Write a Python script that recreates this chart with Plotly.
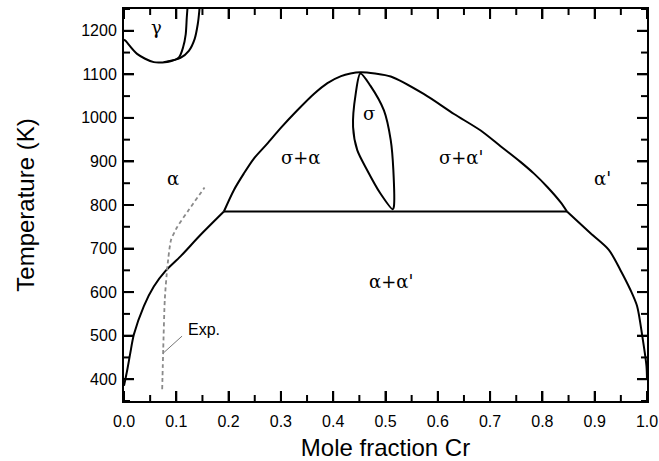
import plotly.graph_objects as go

# alpha / alpha' miscibility-gap boundary (left branch)
gap_left_x = [0.0, 0.006, 0.012, 0.019, 0.038, 0.057, 0.079, 0.108, 0.146, 0.191]
gap_left_T = [385, 420, 460, 503, 568, 613, 648, 682, 731, 785]

# sigma dome (sigma+alpha / sigma+alpha' boundary)
dome_x = [0.191, 0.21, 0.229, 0.248, 0.274, 0.299, 0.331, 0.363, 0.389, 0.415, 0.433, 0.452,
          0.48, 0.51, 0.573, 0.631, 0.682, 0.72, 0.758, 0.784, 0.809, 0.835, 0.847]
dome_T = [785, 834, 872, 906, 941, 976, 1017, 1055, 1080, 1096, 1102, 1105,
          1102, 1095, 1055, 1009, 971, 935, 899, 872, 842, 806, 785]

# alpha / alpha' miscibility-gap boundary (right branch)
gap_right_x = [0.847, 0.892, 0.927, 0.949, 0.968, 0.981, 0.991, 0.999, 1.0]
gap_right_T = [785, 735, 697, 651, 606, 568, 499, 430, 400]

# eutectoid tie line
tie_x = [0.191, 0.847]
tie_T = [785, 785]

# sigma single-phase lens
sigma_x = [0.514, 0.49, 0.465, 0.446, 0.438, 0.443, 0.452, 0.471, 0.497, 0.51, 0.515, 0.516, 0.514]
sigma_T = [790, 827, 880, 926, 979, 1055, 1102, 1074, 1017, 949, 880, 796, 790]

# gamma loop boundaries
gammaA_x = [0.0, 0.003, 0.025, 0.057, 0.089, 0.105, 0.113, 0.118, 0.12, 0.121, 0.1215]
gammaA_T = [1180, 1177, 1147, 1128, 1130, 1139, 1162, 1192, 1230, 1246, 1255]
gammaB_x = [0.076, 0.108, 0.124, 0.135, 0.141, 0.144, 0.1445]
gammaB_T = [1128, 1138, 1154, 1181, 1215, 1246, 1255]

# experimental boundary (dashed)
exp_x = [0.073, 0.075, 0.078, 0.083, 0.09, 0.102, 0.124, 0.154]
exp_T = [377, 469, 583, 659, 720, 750, 789, 840]

# leader line for "Exp." label
lead_x = [0.076, 0.111]
lead_T = [461, 499]

# phase labels
label_text = ["γ", "α", "σ+α", "σ", "σ+α'", "α'", "α+α'"]
label_x = [0.062, 0.094, 0.339, 0.468, 0.645, 0.915, 0.51]
label_T = [1208, 862, 910, 1010, 910, 862, 624]

# axis ticks
x_ticks = [0.0, 0.1, 0.2, 0.3, 0.4, 0.5, 0.6, 0.7, 0.8, 0.9, 1.0]
x_minor = [0.05, 0.15, 0.25, 0.35, 0.45, 0.55, 0.65, 0.75, 0.85, 0.95]
y_ticks = [400, 500, 600, 700, 800, 900, 1000, 1100, 1200]
y_minor = [350, 450, 550, 650, 750, 850, 950, 1050, 1150, 1250]

x_range = [0, 1]
y_range = [350, 1250]

W, H = 659, 461
M = dict(l=124, r=12, t=9, b=60)
plot_w = W - M["l"] - M["r"]
plot_h = H - M["t"] - M["b"]
x_per_px = (x_range[1] - x_range[0]) / plot_w
y_per_px = (y_range[1] - y_range[0]) / plot_h

fig = go.Figure()


def curve(x, y, spline=True):
    fig.add_trace(go.Scatter(x=x, y=y, mode="lines",
                             line=dict(color="black", width=2,
                                       shape="spline" if spline else "linear",
                                       smoothing=0.8),
                             hoverinfo="skip", showlegend=False))

curve(gap_left_x, gap_left_T)
curve(dome_x, dome_T)
curve(gap_right_x, gap_right_T)
curve(tie_x, tie_T, spline=False)
curve(sigma_x, sigma_T)
curve(gammaA_x, gammaA_T)
curve(gammaB_x, gammaB_T)

fig.add_trace(go.Scatter(x=exp_x, y=exp_T, mode="lines",
                         line=dict(color="#8a8a8a", width=1.8, dash="4px,3px", shape="spline", smoothing=0.6),
                         hoverinfo="skip", showlegend=False))
fig.add_trace(go.Scatter(x=lead_x, y=lead_T, mode="lines",
                         line=dict(color="#777777", width=1),
                         hoverinfo="skip", showlegend=False))

# inward-pointing ticks on all four sides, built from the tick-value lists (as layout shapes)
for vals, length in [(x_ticks, 10), (x_minor, 6)]:
    dy = length * y_per_px
    for v in vals:
        fig.add_shape(type="line", xref="x", yref="y", x0=v, x1=v, y0=y_range[0], y1=y_range[0] + dy,
                      line=dict(color="black", width=2))
        fig.add_shape(type="line", xref="x", yref="y", x0=v, x1=v, y0=y_range[1], y1=y_range[1] - dy,
                      line=dict(color="black", width=2))
for vals, length in [(y_ticks, 10), (y_minor, 6)]:
    dx = length * x_per_px
    for v in vals:
        fig.add_shape(type="line", xref="x", yref="y", x0=x_range[0], x1=x_range[0] + dx, y0=v, y1=v,
                      line=dict(color="black", width=2))
        fig.add_shape(type="line", xref="x", yref="y", x0=x_range[1], x1=x_range[1] - dx, y0=v, y1=v,
                      line=dict(color="black", width=2))

for t, lx, ly in zip(label_text, label_x, label_T):
    fig.add_annotation(x=lx, y=ly, text=t, showarrow=False, xanchor="center", yanchor="middle",
                       font=dict(family="DejaVu Serif", size=18, color="black"))

fig.add_annotation(x=0.118, y=514, text="Exp.", showarrow=False, xanchor="left", yanchor="middle",
                   font=dict(family="Liberation Sans", size=16, color="black"))

tickfont = dict(family="Liberation Sans", size=16, color="black")
titlefont = dict(family="Liberation Sans", size=24, color="black")

fig.update_layout(
    width=W, height=H,
    margin=dict(**M, autoexpand=False),
    plot_bgcolor="white", paper_bgcolor="white",
    xaxis=dict(range=x_range, tickmode="array", tickvals=x_ticks, tickformat=".1f",
               showgrid=False, zeroline=False, showline=True, linecolor="black", linewidth=2,
               mirror="allticks", ticks="inside", ticklen=10, tickwidth=2, tickcolor="black",
               tickfont=tickfont, ticklabelstandoff=5,
               title=dict(text="Mole fraction Cr", font=titlefont, standoff=16)),
    yaxis=dict(range=y_range, tickmode="array", tickvals=y_ticks,
               showgrid=False, zeroline=False, showline=True, linecolor="black", linewidth=2,
               mirror="allticks", ticks="inside", ticklen=10, tickwidth=2, tickcolor="black",
               tickfont=tickfont, ticklabelstandoff=2,
               title=dict(text="Temperature (K)", font=titlefont, standoff=40)),
)

fig.write_html("out.html")
